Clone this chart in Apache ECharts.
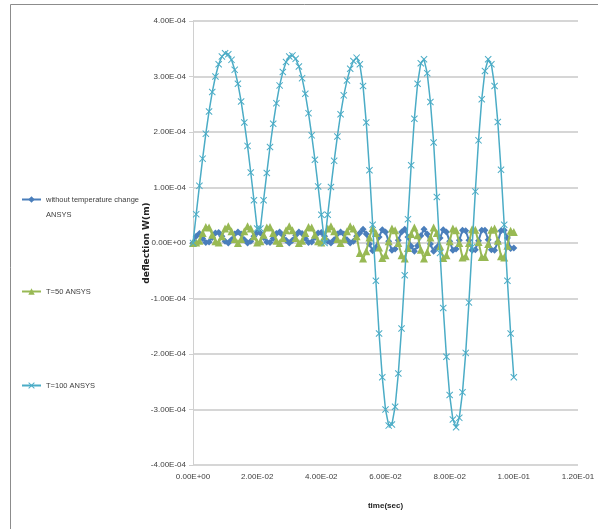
<!DOCTYPE html>
<html>
<head>
<meta charset="utf-8">
<script src="https://cdn.jsdelivr.net/npm/echarts@6/dist/echarts.min.js"></script>
<style>
  html, body { margin: 0; padding: 0; background: #fff; }
  #chart { width: 598px; height: 529px; }
</style>
</head>
<body>
<div id="chart"></div>
<script>
// Sampling instants (s)
const time = [
  0.000,0.001,0.002,0.003,0.004,0.005,0.006,0.007,0.008,0.009,
  0.010,0.011,0.012,0.013,0.014,0.015,0.016,0.017,0.018,0.019,
  0.020,0.021,0.022,0.023,0.024,0.025,0.026,0.027,0.028,0.029,
  0.030,0.031,0.032,0.033,0.034,0.035,0.036,0.037,0.038,0.039,
  0.040,0.041,0.042,0.043,0.044,0.045,0.046,0.047,0.048,0.049,
  0.050,0.051,0.052,0.053,0.054,0.055,0.056,0.057,0.058,0.059,
  0.060,0.061,0.062,0.063,0.064,0.065,0.066,0.067,0.068,0.069,
  0.070,0.071,0.072,0.073,0.074,0.075,0.076,0.077,0.078,0.079,
  0.080,0.081,0.082,0.083,0.084,0.085,0.086,0.087,0.088,0.089,
  0.090,0.091,0.092,0.093,0.094,0.095,0.096,0.097,0.098,0.099,
  0.100
];

// Deflection W, in units of 1e-5 m
const wNoTemp = [
  0, 1.2, 1.7, 0.8, 0.1, 0.2, 1.0, 1.8, 1.9, 1.2,
  0.3, 0.0, 0.6, 1.6, 2.0, 1.6, 0.6, 0.0, 0.3, 1.2,
  1.9, 1.8, 1.0, 0.2, 0.1, 0.8, 1.7, 2.0, 1.4, 0.5,
  0.0, 0.5, 1.4, 2.0, 1.7, 0.8, 0.1, 0.2, 1.0, 1.8,
  1.9, 1.2, 0.3, 0.0, 0.6, 1.6, 2.0, 1.6, 0.6, 0.0,
  0.3, 1.2, 1.8, 2.5, 1.6, -0.2, -1.4, -0.8, 1.1, 2.4,
  2.0, 0.3, -1.3, -1.1, 0.5, 2.0, 2.5, 1.1, -0.6, -1.5,
  -0.5, 1.3, 2.5, 1.6, -0.2, -1.5, -0.8, 0.9, 2.4, 2.0,
  0.3, -1.3, -1.1, 0.5, 2.3, 2.2, 0.5, -1.3, -1.2, 0.4,
  2.3, 2.3, 0.6, -1.2, -1.3, 0.2, 2.2, 2.3, 0.9, -1.0,
  -0.9
];
const wT50 = [
  0, 0.1, 0.4, 1.8, 2.9, 2.8, 1.5, 0.3, 0.1, 1.2,
  2.6, 3.0, 2.1, 0.7, 0.0, 0.7, 2.1, 3.0, 2.6, 1.2,
  0.1, 0.3, 1.5, 2.8, 2.9, 1.8, 0.4, 0.0, 0.9, 2.3,
  3.0, 2.3, 0.9, 0.0, 0.4, 1.8, 2.9, 2.8, 1.5, 0.3,
  0.1, 1.2, 2.6, 3.0, 2.1, 0.7, 0.0, 0.7, 2.1, 3.0,
  2.6, 1.2, -1.8, -2.8, -1.5, 1.0, 2.7, 1.8, -0.8, -2.7,
  -2.2, 0.3, 2.6, 2.3, 0.0, -2.2, -2.8, -0.9, 1.6, 2.8,
  1.4, -1.2, -2.8, -1.6, 1.0, 2.8, 1.8, -0.6, -2.7, -2.2,
  0.3, 2.6, 2.3, 0.0, -2.6, -2.4, 0.0, 2.5, 2.4, 0.2,
  -2.5, -2.5, -0.2, 2.4, 2.6, 0.4, -2.4, -2.6, -0.5, 2.2,
  2.0
];
const wT100 = [
  0, 5.2, 10.3, 15.2, 19.7, 23.7, 27.2, 30.0, 32.2, 33.6,
  34.2, 34.0, 33.0, 31.2, 28.7, 25.5, 21.7, 17.5, 12.7, 7.7,
  2.6, 2.6, 7.7, 12.6, 17.3, 21.5, 25.2, 28.4, 30.8, 32.6,
  33.6, 33.8, 33.2, 31.8, 29.7, 26.9, 23.4, 19.4, 15.0, 10.2,
  5.1, 0.0, 5.1, 10.1, 14.8, 19.2, 23.2, 26.6, 29.3, 31.4,
  32.8, 33.4, 32.2, 28.3, 21.7, 13.1, 3.3, -6.8, -16.3, -24.2,
  -30.0, -32.9, -32.7, -29.5, -23.5, -15.4, -5.8, 4.3, 14.0, 22.4,
  28.7, 32.4, 33.1, 30.6, 25.4, 18.1, 8.3, -1.8, -11.7, -20.5,
  -27.4, -31.8, -33.2, -31.5, -26.9, -19.8, -10.7, -0.7, 9.3, 18.5,
  25.9, 31.0, 33.1, 32.2, 28.3, 21.8, 13.2, 3.3, -6.8, -16.3,
  -24.2
];

const seriesNames = ['without temperature change\nANSYS', 'T=50 ANSYS', 'T=100 ANSYS'];
const xTicks = { min: 0, max: 0.12, step: 0.02 };
const yTicks = { min: -40, max: 40, step: 10 };   // 1e-5 m units
const yUnit = 1e-5;

// Excel-style scientific label: 4.00E-04
function sci(v) {
  if (Math.abs(v) < 1e-15) return '0.00E+00';
  const s = v.toExponential(2);
  const m = s.split('e');
  const exp = parseInt(m[1], 10);
  const sign = exp < 0 ? '-' : '+';
  const e = String(Math.abs(exp)).padStart(2, '0');
  return m[0] + 'E' + sign + e;
}

function pairs(ys) { return time.map((t, i) => [t, ys[i]]); }

const FONT = '"Liberation Sans", Arial, sans-serif';
const TXT = '#404040';
const X_SYMBOL = 'path://M0,1L1,0L5,4L9,0L10,1L6,5L10,9L9,10L5,6L1,10L0,9L4,5Z';

const chart = echarts.init(document.getElementById('chart'), null, { renderer: 'canvas' });

const legendBase = {
  orient: 'vertical', left: 16, itemWidth: 19, itemHeight: 8, itemGap: 0,
  textStyle: { fontFamily: FONT, fontSize: 7.5, color: TXT, lineHeight: 15 }
};

chart.setOption({
  animation: false,
  backgroundColor: '#fff',
  graphic: [{
    type: 'rect', shape: { x: 10.5, y: 4.5, width: 700, height: 700 },
    style: { fill: 'none', stroke: '#8c8c8c', lineWidth: 1 }, silent: true, z: -10
  }],
  legend: [
    // leading blank line keeps the marker beside the first text line
    Object.assign({}, legendBase, { top: 172, data: [seriesNames[0]],
      formatter: name => '\n' + name }),
    Object.assign({}, legendBase, { top: 279, data: [seriesNames[1]] }),
    Object.assign({}, legendBase, { top: 373, data: [seriesNames[2]] })
  ],
  grid: { left: 193, right: 20, top: 21, bottom: 64, containLabel: false },
  xAxis: {
    type: 'value', min: xTicks.min, max: xTicks.max, interval: xTicks.step,
    name: 'time(sec)', nameLocation: 'middle', nameGap: 37, nameMoveOverlap: false,
    nameTextStyle: { fontFamily: FONT, fontSize: 8, fontWeight: 'bold', color: '#222' },
    axisLine: { show: false, onZero: false },
    axisTick: { show: false },
    splitLine: { show: false },
    axisLabel: { formatter: sci, fontFamily: FONT, fontSize: 8, color: TXT, margin: 8 }
  },
  yAxis: {
    type: 'value', min: yTicks.min, max: yTicks.max, interval: yTicks.step,
    name: 'deflection W(m)', nameLocation: 'middle', nameGap: 42, nameRotate: 90, nameMoveOverlap: false,
    nameTextStyle: { fontFamily: '"DejaVu Sans", sans-serif', fontSize: 9, fontWeight: 'bold', color: '#222' },
    axisLine: { show: true, lineStyle: { color: '#d0d0d0', width: 1 } },
    axisTick: { show: true, length: 4, lineStyle: { color: '#d0d0d0' } },
    splitLine: { show: true, lineStyle: { color: '#c8c8c8', width: 1.5 } },
    axisLabel: { formatter: v => sci(v * yUnit), fontFamily: FONT, fontSize: 8, color: TXT, margin: 7 }
  },
  series: [
    {
      name: seriesNames[0], type: 'line', data: pairs(wNoTemp),
      symbol: 'diamond', symbolSize: 7, showAllSymbol: true,
      lineStyle: { color: '#4a7ebb', width: 2 }, itemStyle: { color: '#4a7ebb' }, z: 2
    },
    {
      name: seriesNames[1], type: 'line', data: pairs(wT50),
      symbol: 'triangle', symbolSize: 8, showAllSymbol: true,
      lineStyle: { color: '#98b954', width: 2 }, itemStyle: { color: '#98b954' }, z: 3
    },
    {
      name: seriesNames[2], type: 'line', data: pairs(wT100),
      symbol: X_SYMBOL, symbolSize: 7, showAllSymbol: true,
      lineStyle: { color: '#4bacc6', width: 1.5 }, itemStyle: { color: '#4bacc6' }, z: 4
    }
  ]
});
</script>
</body>
</html>
